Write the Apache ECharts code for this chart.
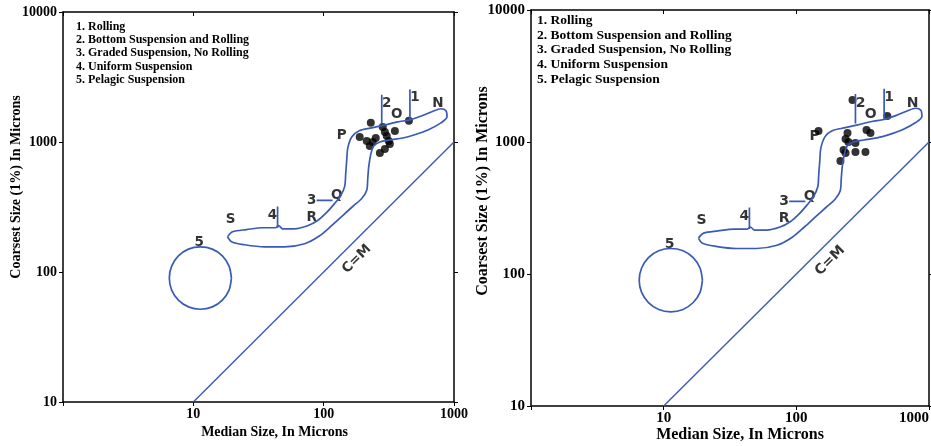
<!DOCTYPE html>
<html>
<head>
<meta charset="utf-8">
<script src="https://cdn.jsdelivr.net/npm/echarts@6/dist/echarts.min.js"></script>
<style>
  html, body { margin: 0; padding: 0; background: #fff; }
  #chart { width: 931px; height: 446px; }
</style>
</head>
<body>
<div id="chart"></div>
<script>
const BLUE = "#3a5ab8";
const SERIF = "Liberation Serif";
const SANS = "DejaVu Sans";

// zone names written in the upper left of each plot
const zones = [
  "1. Rolling",
  "2. Bottom Suspension and Rolling",
  "3. Graded Suspension, No Rolling",
  "4. Uniform Suspension",
  "5. Pelagic Suspension"
];

// C-M field outline: [median, coarsest] in microns
const fieldOutline = [
  [18.3, 187], [20.0, 204], [25.6, 212], [34.0, 219], [42.7, 219], [45.1, 227], [48.4, 215],
  [59.8, 215], [75.3, 227], [89.9, 249], [105.5, 287], [121.5, 337], [135.1, 388], [145, 456],
  [147.7, 575], [150.3, 725], [153, 898], [164.2, 1094], [185.9, 1217], [234, 1284], [295, 1354],
  [371, 1429], [459, 1481], [567, 1591], [677, 1709], [794, 1802], [868, 1739], [884, 1562],
  [794, 1404], [631, 1239], [493, 1133], [405, 1074], [322, 1036], [270, 1000], [242, 931],
  [230, 807], [222, 652], [218, 526], [214, 425], [196, 368], [167, 319], [140, 272], [115, 227],
  [93.2, 190], [71.4, 165], [50.1, 156], [35.2, 156], [24.7, 162], [19.6, 171], [18.3, 187]
];

// pelagic suspension ring (5)
const pelagicRing = [
  [19.6, 89.8], [18.8, 111], [16.7, 133], [14.0, 150], [11.3, 156], [9.17, 150], [7.68, 133],
  [6.82, 111], [6.54, 89.8], [6.82, 72.6], [7.68, 60.8], [9.17, 53.9], [11.3, 51.7], [14.0, 53.9],
  [16.7, 60.8], [18.8, 72.6], [19.6, 89.8]
];

// segment boundaries between the zones
const boundary1 = [[459, 1481], [459, 2530]];
const boundary2 = [[279, 1380], [279, 2310]];
const boundary3 = [[88.3, 355], [117, 355]];
const boundary4 = [[44.3, 219], [44.3, 319]];
const lineCM = [[10, 10], [1000, 1000]];

// letters on the diagram
const markText = ["1", "2", "3", "4", "5", "N", "O", "P", "Q", "R", "S", "C=M"];
const markM = [501, 305, 80.9, 40.5, 11.1, 753, 364, 137.5, 126, 80.9, 19.3, 179.5];
const markC = [2193, 1970, 355, 272, 168, 1970, 1619, 1113, 388, 262, 253, 126];

// samples, left plot
const leftM = [230, 451, 189, 284, 295, 305, 316, 352, 214, 226, 238, 251, 270, 295, 322];
const leftC = [1404, 1455, 1094, 1307, 1195, 1113, 1018, 1217, 1018, 931, 1000, 1074, 822, 882, 965];

// samples, right plot
const rightM = [265, 485, 147, 338, 362, 243, 235, 247, 279, 227, 235, 279, 332, 215];
const rightC = [2080, 1574, 1211, 1233, 1169, 1169, 1054, 1000, 982, 869, 826, 840, 840, 718];

const panels = [
  {
    grid: { left: 63, top: 12, width: 391, height: 390 },
    m: leftM, c: leftC,
    nameSize: 14, tickSize: 14, zoneSize: 12, zoneLH: 13.3, zoneX: 76, zoneY: 20,
    markSize: 13.5, xNamePad: 32, yNamePad: 40, yGap: 40, xGap: 23, alignMax: "center"
  },
  {
    grid: { left: 531, top: 10, width: 398, height: 396 },
    m: rightM, c: rightC,
    nameSize: 16, tickSize: 15, zoneSize: 13.5, zoneLH: 14.7, zoneX: 537, zoneY: 13,
    markSize: 14, xNamePad: 20, yNamePad: 34, yGap: 40, xGap: 21, alignMax: "right"
  }
];

const xAxes = [];
const yAxes = [];
const series = [];
const titles = [];

function blueLine(data, xi, yi) {
  return {
    type: "line",
    xAxisIndex: xi,
    yAxisIndex: yi,
    data: data,
    showSymbol: false,
    symbol: "none",
    smooth: 0.3,
    silent: true,
    lineStyle: { color: BLUE, width: 1.7 }
  };
}

panels.forEach((p, i) => {
  const xi = i * 2;
  const yi = i * 2;
  xAxes.push({
    gridIndex: i,
    type: "log",
    logBase: 10,
    min: 1,
    max: 1000,
    position: "bottom",
    name: "Median Size, In Microns",
    nameLocation: "middle",
    nameGap: p.xGap,
    nameMoveOverlap: false,
    nameTextStyle: {
      fontFamily: SERIF, fontWeight: "bold", fontSize: p.nameSize, color: "#000",
      padding: [0, 0, 0, p.xNamePad], verticalAlign: "top"
    },
    axisLine: { lineStyle: { color: "#000", width: 1.5 } },
    axisTick: { length: 4, lineStyle: { color: "#000" } },
    minorTick: { show: false },
    splitLine: { show: false },
    axisLabel: {
      fontFamily: SERIF, fontWeight: "bold", fontSize: p.tickSize, color: "#000", margin: 5,
      alignMaxLabel: p.alignMax,
      formatter: (v) => (v < 5 ? "" : String(Math.round(v)))
    }
  });
  xAxes.push({
    gridIndex: i,
    type: "log",
    logBase: 10,
    min: 1,
    max: 1000,
    position: "top",
    axisLine: { lineStyle: { color: "#000", width: 1.5 } },
    axisTick: { inside: true, length: 4, lineStyle: { color: "#000" } },
    axisLabel: { show: false },
    splitLine: { show: false }
  });
  yAxes.push({
    gridIndex: i,
    type: "log",
    logBase: 10,
    min: 10,
    max: 10000,
    position: "left",
    name: "Coarsest Size (1%) In Microns",
    nameLocation: "middle",
    nameGap: p.yGap,
    nameMoveOverlap: false,
    nameTextStyle: {
      fontFamily: SERIF, fontWeight: "bold", fontSize: p.nameSize, color: "#000",
      padding: [0, 0, 0, p.yNamePad]
    },
    axisLine: { lineStyle: { color: "#000", width: 1.5 } },
    axisTick: { length: 4, lineStyle: { color: "#000" } },
    splitLine: { show: false },
    axisLabel: {
      fontFamily: SERIF, fontWeight: "bold", fontSize: p.tickSize, color: "#000", margin: 6,
      formatter: (v) => String(Math.round(v))
    }
  });
  yAxes.push({
    gridIndex: i,
    type: "log",
    logBase: 10,
    min: 10,
    max: 10000,
    position: "right",
    axisLine: { lineStyle: { color: "#000", width: 1.5 } },
    axisTick: { length: 4, lineStyle: { color: "#000" } },
    axisLabel: { show: false },
    splitLine: { show: false }
  });

  series.push(blueLine(fieldOutline, xi, yi));
  series.push(blueLine(pelagicRing, xi, yi));
  [boundary1, boundary2, boundary3, boundary4, lineCM].forEach((seg) => {
    const s = blueLine(seg, xi, yi);
    s.smooth = false;
    s.lineStyle = { color: BLUE, width: seg === lineCM ? 1.4 : 1.7 };
    series.push(s);
  });

  series.push({
    type: "scatter",
    xAxisIndex: xi,
    yAxisIndex: yi,
    symbolSize: 8,
    itemStyle: { color: "#000" },
    data: p.m.map((m, k) => [m, p.c[k]])
  });

  series.push({
    type: "scatter",
    xAxisIndex: xi,
    yAxisIndex: yi,
    symbolSize: 0,
    silent: true,
    label: {
      show: true,
      position: "inside",
      fontFamily: SANS,
      fontWeight: "bold",
      fontSize: p.markSize,
      color: "#000",
      formatter: (d) => d.value[2]
    },
    data: markText.map((t, k) => {
      const item = { value: [markM[k], markC[k], t] };
      if (t === "C=M") item.label = { rotate: 45 };
      return item;
    })
  });

  titles.push({
    text: zones.join("\n"),
    left: p.zoneX,
    top: p.zoneY,
    padding: 0,
    textStyle: {
      fontFamily: SERIF, fontWeight: "bold", fontSize: p.zoneSize,
      lineHeight: p.zoneLH, color: "#000"
    }
  });
});

const chart = echarts.init(document.getElementById("chart"), null, { renderer: "canvas" });
chart.setOption({
  animation: false,
  backgroundColor: "#fff",
  title: titles,
  grid: panels.map((p) => Object.assign({ containLabel: false, outerBoundsMode: "none" }, p.grid)),
  xAxis: xAxes,
  yAxis: yAxes,
  series: series
});
</script>
</body>
</html>
